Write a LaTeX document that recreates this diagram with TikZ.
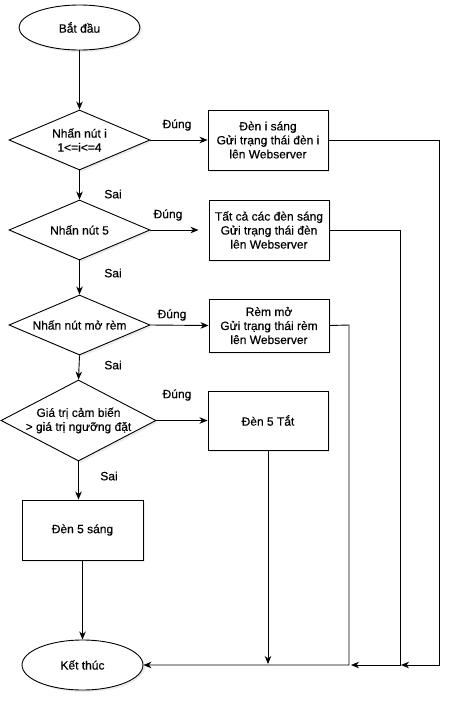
\documentclass[tikz,border=0pt]{standalone}
\usepackage{fontspec}
\setmainfont{Liberation Sans}
\newfontfamily\darkfont{Liberation Sans}[FakeBold=0.35]
\usetikzlibrary{shapes.geometric,arrows.meta,shadows}
\begin{document}
\begin{tikzpicture}[x=1pt,y=-1pt,
  base/.style={draw=black,line width=0.9pt,fill=white,
     drop shadow={opacity=0.15,shadow xshift=2pt,shadow yshift=-2pt}},
  term/.style={base,ellipse,inner sep=0pt},
  proc/.style={base,rectangle,inner sep=0pt},
  dec/.style={base,diamond,inner sep=0pt,aspect=2.35},
  txt/.style={font=\darkfont\fontsize{12}{14}\selectfont,align=center,inner sep=0pt},
  lbl/.style={font=\darkfont\fontsize{12}{14}\selectfont,inner sep=0pt},
  arr/.style={draw=black,line width=0.9pt,-{Stealth[length=8pt,width=6.5pt,inset=2.5pt]}},
  ln/.style={draw=black,line width=0.9pt}]
\useasboundingbox (0,0) rectangle (459,702);

% shapes
\node[term,minimum width=121pt,minimum height=45pt] (start) at (79.5,27.5) {};
\node[txt] (tstart) at (start.center) {Bắt đầu};

\node[dec,minimum width=141pt,minimum height=60pt] (d1) at (79.5,140) {};
\node[txt] (td1) at (d1.center) {Nhấn nút i\\1<=i<=4};
\node[proc,minimum width=120pt,minimum height=60pt] (b1) at (268,140) {};
\node[txt] (tb1) at (b1.center) {Đèn i sáng\\Gửi trạng thái đèn i\\lên Webserver};

\node[dec,minimum width=141pt,minimum height=60pt] (d2) at (79.5,230) {};
\node[txt] (td2) at (d2.center) {Nhấn nút 5};
\node[proc,minimum width=120pt,minimum height=60pt] (b2) at (269,230) {};
\node[txt] (tb2) at (b2.center) {Tất cả các đèn sáng\\Gửi trạng thái đèn\\lên Webserver};

\node[dec,minimum width=141pt,minimum height=60pt] (d3) at (79.5,325) {};
\node[txt] (td3) at (d3.center) {Nhấn nút mở rèm};
\node[proc,minimum width=120pt,minimum height=53pt] (b3) at (269,325.5) {};
\node[txt] (tb3) at (b3.center) {Rèm mở\\Gửi trạng thái rèm\\lên Webserver};

\node[dec,minimum width=155pt,minimum height=81pt] (d4) at (78.5,420.5) {};
\node[txt] (td4) at (d4.center) {Giá trị cảm biến\\> giá trị ngưỡng đặt};
\node[proc,minimum width=120pt,minimum height=59pt] (b4) at (268,420.5) {};
\node[txt] (tb4) at (b4.center) {Đèn 5 Tắt};

\node[proc,minimum width=121pt,minimum height=60pt] (b5) at (82.5,530) {};
\node[txt] (tb5) at (b5.center) {Đèn 5 sáng};

\node[term,minimum width=121pt,minimum height=50pt] (end) at (82.5,665) {};
\node[txt] (tend) at (end.center) {Kết thúc};

% labels
\node[lbl] (l1) at (177,125) {Đúng};
\node[lbl] (l2) at (168,215) {Đúng};
\node[lbl] (l3) at (172,315) {Đúng};
\node[lbl] (l4) at (177,395) {Đúng};
\node[lbl] (s1) at (113,194) {Sai};
\node[lbl] (s2) at (113,273) {Sai};
\node[lbl] (s3) at (113,365) {Sai};
\node[lbl] (s4) at (109,476) {Sai};

% coordinates
\coordinate (a2) at ([xshift=-10pt]b2.west);
\coordinate (r1) at (439,140);
\coordinate (r1b) at (439,665);
\coordinate (e1) at (401,665);
\coordinate (r2) at (400,230);
\coordinate (r2b) at (400,665);
\coordinate (e2) at (351,665);
\coordinate (r3) at (349,325);
\coordinate (r3b) at (349,665);
\coordinate (e4) at (268,664);

% connectors
\draw[arr] (start.south -| d1.north) -- (d1.north);
\draw[arr] (d1.east) -- (b1.west);
\draw[arr] (d1.south) -- (d2.north);
\draw[arr] (d2.east) -- (a2);
\draw[arr] (d2.south) -- (d3.north);
\draw[arr] (d3.east) -- (b3.west);
\draw[arr] (d3.south) -- (d4.north);
\draw[arr] (d4.east) -- (b4.west);
\draw[arr] (d4.south) -- (d4.south |- b5.north);
\draw[arr] (b5.south) -- (end.north);

\draw[arr] (b1.east) -- (r1) -- (r1b) -- (e1);
\draw[arr] (b2.east) -- (r2) -- (r2b) -- (e2);
\draw[arr] (b3.east) -- (r3) -- (r3b) -- (end.east);
\draw[arr] (b4.south) -- (e4);
\end{tikzpicture}
\end{document}
